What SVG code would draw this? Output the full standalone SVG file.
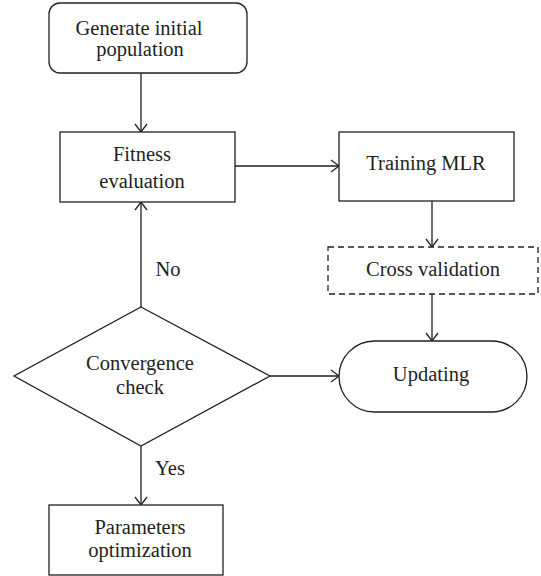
<svg xmlns="http://www.w3.org/2000/svg" width="541" height="576" viewBox="0 0 541 576">
<style>
  .shape { fill: #fff; stroke: #231f20; stroke-width: 1.3; }
  .dashed { stroke-dasharray: 6 4; }
  .conn { fill: none; stroke: #231f20; stroke-width: 1.3; marker-end: url(#arr); }
  text { font-family: 'Liberation Serif', 'DejaVu Serif', serif; font-size: 20.5px; fill: #231f20; text-anchor: middle; }
</style>
<defs>
  <marker id="arr" markerUnits="userSpaceOnUse" markerWidth="12" markerHeight="14" refX="9" refY="7" orient="auto">
    <path d="M1,1 L9,7 L1,13" fill="none" stroke="#231f20" stroke-width="1.3"/>
  </marker>
</defs>
<rect width="541" height="576" fill="#fff"/>
<g id="connectors">
  <line class="conn" x1="141" y1="73" x2="141" y2="132"/>
  <line class="conn" x1="235" y1="166" x2="339" y2="166"/>
  <line class="conn" x1="432" y1="201" x2="432" y2="247"/>
  <line class="conn" x1="432" y1="294" x2="432" y2="341"/>
  <line class="conn" x1="141" y1="307" x2="141" y2="202"/>
  <line class="conn" x1="270" y1="376" x2="339" y2="376"/>
  <line class="conn" x1="141" y1="446" x2="141" y2="505"/>
  <text x="168" y="276" font-family="Liberation Serif, serif">No</text>
  <text x="170" y="475" font-family="Liberation Serif, serif">Yes</text>
</g>
<g id="generate">
  <rect class="shape" x="49" y="3" width="198" height="70" rx="11"/>
  <text x="139" y="35">Generate initial</text>
  <text x="140" y="56">population</text>
</g>
<g id="fitness">
  <rect class="shape" x="60" y="132" width="175" height="70"/>
  <text x="142" y="161">Fitness</text>
  <text x="142" y="188">evaluation</text>
</g>
<g id="training">
  <rect class="shape" x="339" y="132" width="175" height="69"/>
  <text x="426" y="170">Training MLR</text>
</g>
<g id="cross">
  <rect class="shape dashed" x="328" y="247" width="210" height="47"/>
  <text x="433" y="276">Cross validation</text>
</g>
<g id="updating">
  <rect class="shape" x="339" y="341" width="188" height="71" rx="35.5"/>
  <text x="431" y="381">Updating</text>
</g>
<g id="convergence">
  <polygon class="shape" points="141,307 270,376 141,446 14,376"/>
  <text x="140" y="370">Convergence</text>
  <text x="140" y="394">check</text>
</g>
<g id="parameters">
  <rect class="shape" x="49" y="505" width="174" height="70"/>
  <text x="140" y="534">Parameters</text>
  <text x="140" y="557">optimization</text>
</g>
</svg>
